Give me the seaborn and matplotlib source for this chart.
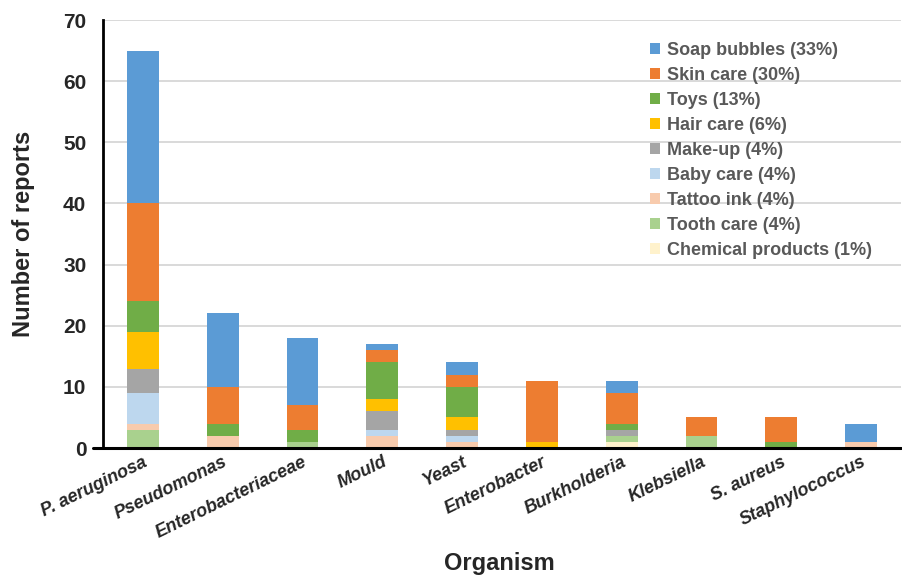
import matplotlib
matplotlib.use("Agg")
import matplotlib.pyplot as plt
import seaborn as sns
import pandas as pd
import numpy as np
from matplotlib.patches import Patch
from matplotlib.lines import Line2D

organisms = ["P. aeruginosa", "Pseudomonas", "Enterobacteriaceae", "Mould", "Yeast",
             "Enterobacter", "Burkholderia", "Klebsiella", "S. aureus", "Staphylococcus"]

# stacking order bottom -> top
chemical = [0, 0, 0, 0, 0, 0, 1, 0, 0, 0]
tooth    = [3, 0, 1, 0, 0, 0, 1, 2, 0, 0]
tattoo   = [1, 2, 0, 2, 1, 0, 0, 0, 0, 1]
baby     = [5, 0, 0, 1, 1, 0, 0, 0, 0, 0]
makeup   = [4, 0, 0, 3, 1, 0, 1, 0, 0, 0]
hair     = [6, 0, 0, 2, 2, 1, 0, 0, 0, 0]
toys     = [5, 2, 2, 6, 5, 0, 1, 0, 1, 0]
skin     = [16, 6, 4, 2, 2, 10, 5, 3, 4, 0]
soap     = [25, 12, 11, 1, 2, 0, 2, 0, 0, 3]

labels = ["Soap bubbles (33%)", "Skin care (30%)", "Toys (13%)", "Hair care (6%)",
          "Make-up (4%)", "Baby care (4%)", "Tattoo ink (4%)", "Tooth care (4%)",
          "Chemical products (1%)"]
series_top_down = [soap, skin, toys, hair, makeup, baby, tattoo, tooth, chemical]
colors = ["#5B9BD5", "#ED7D31", "#70AD47", "#FFC000", "#A5A5A5",
          "#BDD7EE", "#F8CBAD", "#A9D18E", "#FFF2CC"]

sns.set_style("white")
plt.rcParams["font.family"] = ["Liberation Sans", "DejaVu Sans"]

fig = plt.figure(figsize=(9.02, 5.78), dpi=100)
ax = fig.add_axes([103/902, 1-448/578, 798/902, 428/578])

bottom_up = series_top_down[::-1]
colors_bottom_up = colors[::-1]
cum = np.cumsum(np.array(bottom_up), axis=0)
for i in range(len(bottom_up) - 1, -1, -1):
    df = pd.DataFrame({"org": organisms, "val": cum[i]})
    sns.barplot(data=df, x="org", y="val", order=organisms, color=colors_bottom_up[i],
                width=0.4, ax=ax, saturation=1, linewidth=0, zorder=3)

ax.set_ylim(0, 70)
ax.set_xlim(-0.5, 9.5)
ax.set_yticks(range(0, 71, 10))
ax.yaxis.grid(True, color="#D9D9D9", linewidth=1.4, zorder=0)
ax.set_axisbelow(True)
for s in ["top", "right"]:
    ax.spines[s].set_visible(False)
ax.spines["left"].set_color("black")
ax.spines["left"].set_linewidth(2)
ax.spines["bottom"].set_visible(False)
ax.add_line(Line2D([-0.012, 1.0], [0, 0], transform=ax.transAxes, color="black",
                   linewidth=2.2, clip_on=False, zorder=5))

ax.tick_params(axis="y", length=0, pad=12, labelsize=15)
ax.tick_params(axis="x", length=0, pad=4)
for t in ax.get_yticklabels():
    t.set_fontweight("bold")
ax.set_xticks(range(len(organisms)))
ax.set_xticklabels(organisms, rotation=26, ha="right", rotation_mode="anchor",
                   fontsize=13, fontweight="bold", fontstyle="italic")

ax.set_ylabel("Number of reports", fontsize=17, fontweight="bold",
              ha="center", va="center")
ax.set_xlabel("Organism", fontsize=17, fontweight="bold", ha="center", va="center")
ax.xaxis.set_label_coords(0.497, -0.271)
ax.yaxis.set_label_coords(-0.100, 0.5)

handles = [Patch(facecolor=c, edgecolor="none") for c in colors]
leg = ax.legend(handles, labels, loc="upper left", bbox_to_anchor=(0.676, 0.965),
                frameon=False, prop={"weight": "bold", "size": 13},
                handlelength=0.55, handleheight=0.55, handletextpad=0.4,
                labelspacing=0.44, borderaxespad=0)
for t in leg.get_texts():
    t.set_color("#595959")

fig.savefig("out.png", dpi=100)
